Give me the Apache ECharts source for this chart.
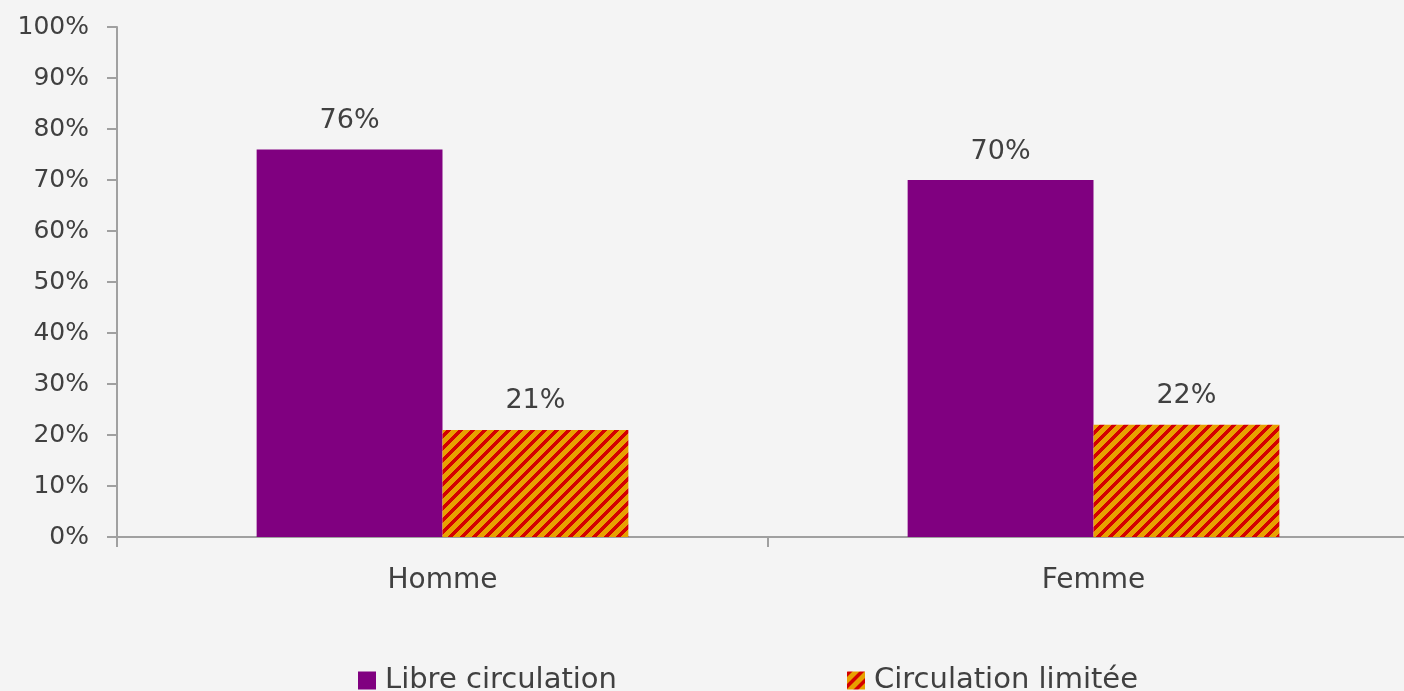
<!DOCTYPE html>
<html><head><meta charset="utf-8">
<script src="https://cdn.jsdelivr.net/npm/echarts@6/dist/echarts.min.js"></script>
<style>html,body{margin:0;padding:0;background:#f4f4f4;}#c{width:1404px;height:691px;}</style>
</head><body><div id="c"></div>
<script>
const categories = ['Homme', 'Femme'];
const seriesNames = ['Libre circulation', 'Circulation limitée'];
const libre = [76, 70];
const limitee = [21, 22];
const yTicks = [0, 10, 20, 30, 40, 50, 60, 70, 80, 90, 100];

function hatch() {
  const n = 12;
  const c = document.createElement('canvas');
  c.width = n; c.height = n;
  const g = c.getContext('2d');
  for (let x = 0; x < n; x++) for (let y = 0; y < n; y++) {
    g.fillStyle = ((x + y) % n) < 5 ? '#d40000' : '#e8a000';
    g.fillRect(x, y, 1, 1);
  }
  return c;
}
const pat = { image: hatch(), repeat: 'repeat' };
const font = '"DejaVu Sans", sans-serif';
const txt = '#404040';

const chart = echarts.init(document.getElementById('c'));
chart.setOption({
  backgroundColor: '#f4f4f4',
  animation: false,
  grid: { left: 117, top: 27, width: 1302, height: 510, containLabel: false, outerBoundsMode: 'none' },
  legend: [
    { left: 358, top: 666, padding: 0, itemWidth: 18, itemHeight: 18, icon: 'rect',
      textStyle: { fontFamily: font, fontSize: 29, color: txt, padding: [0,0,0,4] },
      data: [seriesNames[0]] },
    { left: 847, top: 666, padding: 0, itemWidth: 18, itemHeight: 18, icon: 'rect',
      textStyle: { fontFamily: font, fontSize: 29, color: txt, padding: [0,0,0,4] },
      data: [seriesNames[1]] }
  ],
  xAxis: {
    type: 'category', data: categories,
    axisLine: { lineStyle: { color: '#a0a0a0', width: 2 } },
    axisTick: { show: true, length: 10, lineStyle: { color: '#a0a0a0', width: 2 } },
    axisLabel: { fontFamily: font, fontSize: 28, color: txt, margin: 30 }
  },
  yAxis: {
    type: 'value', min: 0, max: 100, interval: 10,
    axisLine: { show: true, lineStyle: { color: '#a0a0a0', width: 2 } },
    axisTick: { show: true, length: 10, lineStyle: { color: '#a0a0a0', width: 2 } },
    splitLine: { show: false },
    axisLabel: { fontFamily: font, fontSize: 25, color: txt, margin: 28,
      formatter: v => yTicks.includes(v) ? v + '%' : '' }
  },
  series: [
    { name: seriesNames[0], type: 'bar', data: libre, barGap: '0%', barCategoryGap: '42.9%',
      itemStyle: { color: '#800080' },
      label: { show: true, position: 'top', distance: 15, fontFamily: font, fontSize: 27, color: txt, formatter: '{c}%' } },
    { name: seriesNames[1], type: 'bar', data: limitee, barGap: '0%', barCategoryGap: '42.9%',
      itemStyle: { color: pat },
      label: { show: true, position: 'top', distance: 15, fontFamily: font, fontSize: 27, color: txt, formatter: '{c}%' } }
  ]
});
</script></body></html>
